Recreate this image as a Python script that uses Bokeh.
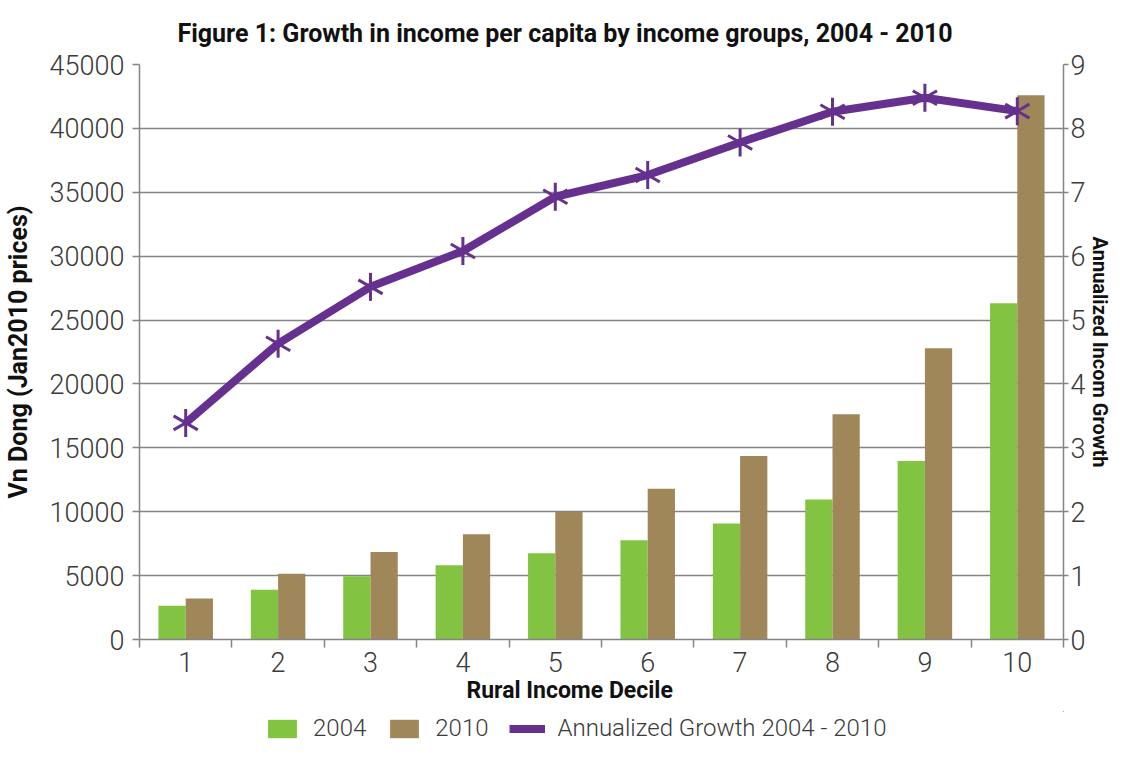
import numpy as np
from bokeh.plotting import figure
from bokeh.layouts import column
from bokeh.models import (Range1d, LinearAxis, FixedTicker, Legend, LegendItem,
                          ColumnDataSource, Title)
from bokeh.transform import dodge
from bokeh.embed import file_html
from bokeh.resources import INLINE

# ---------------- data ----------------
deciles = [1, 2, 3, 4, 5, 6, 7, 8, 9, 10]
income_2004 = [2650, 3900, 4950, 5820, 6750, 7760, 9080, 10950, 13970, 26320]
income_2010 = [3200, 5140, 6850, 8230, 10000, 11800, 14360, 17620, 22800, 42600]
growth = [3.39, 4.63, 5.52, 6.08, 6.93, 7.27, 7.78, 8.26, 8.48, 8.27]
left_ticks = [0, 5000, 10000, 15000, 20000, 25000, 30000, 35000, 40000, 45000]
right_ticks = [0, 1, 2, 3, 4, 5, 6, 7, 8, 9]
x_tick_labels = [str(d) for d in deciles]
series_labels = ["2004", "2010", "Annualized Growth 2004 - 2010"]

GREEN = "#82C341"
BROWN = "#A0875A"
PURPLE = "#66308F"
GRID = "#858585"
TXT = "#3a3a3a"
TICK_FONT = "Roboto Light, Roboto"
BOLD_FONT = "Roboto"

src = ColumnDataSource(dict(decile=deciles, y2004=income_2004, y2010=income_2010, growth=growth))

p = figure(width=1125, height=711, x_range=Range1d(0.5, 10.5), y_range=Range1d(0, 45000),
           output_backend="svg", toolbar_location=None,
           min_border_left=130, min_border_right=62, min_border_top=59, min_border_bottom=72)
p.extra_y_ranges = {"growth": Range1d(0, 9)}
p.outline_line_color = None
p.background_fill_color = "white"

bw = 0.295


def draw_series(fig, yname=None):
    kw = {} if yname is None else {"y_range_name": yname}
    a = fig.vbar(x=dodge("decile", -bw / 2, range=fig.x_range), top="y2004", width=bw, source=src,
                 fill_color=GREEN, line_color=None)
    b = fig.vbar(x=dodge("decile", bw / 2, range=fig.x_range), top="y2010", width=bw, source=src,
                 fill_color=BROWN, line_color=None)
    ln = fig.line(x="decile", y="growth", source=src, line_color=PURPLE, line_width=8,
                  line_join="round", **kw)
    ms = []
    for ang in (np.pi / 2, np.pi / 6, -np.pi / 6):
        ms.append(fig.scatter(x="decile", y="growth", source=src, marker="dash", angle=ang,
                              size=28, line_color=PURPLE, line_width=3, **kw))
    return a, b, ln, ms


draw_series(p, "growth")

# title
p.title.text = "Figure 1: Growth in income per capita by income groups, 2004 - 2010"
p.title.align = "left"
p.title.text_font = BOLD_FONT
p.title.text_font_size = "25px"
p.title.text_font_style = "bold"
p.title.text_color = "#111111"
p.title.offset = 38
p.title.standoff = 33

# grids
p.xgrid.visible = False
p.ygrid.ticker = FixedTicker(ticks=left_ticks)
p.ygrid.grid_line_color = GRID
p.ygrid.grid_line_width = 1.5

# x axis
xa = p.xaxis[0]
xa.ticker = FixedTicker(ticks=deciles, minor_ticks=[d - 0.5 for d in deciles] + [10.5])
xa.major_label_overrides = {d: lab for d, lab in zip(deciles, x_tick_labels)}
xa.major_tick_out = 0
xa.major_tick_in = 0
xa.minor_tick_out = 8
xa.minor_tick_in = 0
xa.minor_tick_line_color = GRID
xa.minor_tick_line_width = 1.5
xa.axis_line_color = GRID
xa.axis_line_width = 1.5
xa.major_label_standoff = 4
xa.major_label_text_font = TICK_FONT
xa.major_label_text_font_size = "27px"
xa.major_label_text_color = TXT

# left axis
ya = p.yaxis[0]
ya.ticker = FixedTicker(ticks=left_ticks)
ya.axis_label = "Vn Dong (Jan2010 prices)"
ya.major_tick_out = 7
ya.major_tick_in = 0
ya.minor_tick_line_color = None
ya.major_tick_line_color = GRID
ya.major_tick_line_width = 1.5
ya.axis_line_color = GRID
ya.axis_line_width = 1.5
ya.major_label_standoff = 8
ya.major_label_text_font = TICK_FONT
ya.major_label_text_font_size = "27px"
ya.major_label_text_color = TXT
ya.axis_label_text_font = BOLD_FONT
ya.axis_label_text_font_style = "bold"
ya.axis_label_text_font_size = "25px"
ya.axis_label_text_color = "#111111"
ya.axis_label_standoff = 14

# right axis
ra = LinearAxis(y_range_name="growth", ticker=FixedTicker(ticks=right_ticks),
                axis_label="Annualized Incom Growth")
ra.major_tick_out = 5
ra.major_tick_in = 0
ra.minor_tick_line_color = None
ra.major_tick_line_color = GRID
ra.major_tick_line_width = 1.5
ra.axis_line_color = GRID
ra.axis_line_width = 1.5
ra.major_label_standoff = 2
ra.major_label_text_font = TICK_FONT
ra.major_label_text_font_size = "27px"
ra.major_label_text_color = TXT
ra.axis_label_text_font = BOLD_FONT
ra.axis_label_text_font_style = "bold"
ra.axis_label_text_font_size = "20px"
ra.axis_label_text_color = "#111111"
ra.axis_label_standoff = 0
p.add_layout(ra, "right")

# x axis title below
xt = Title(text="Rural Income Decile", align="left", text_font=BOLD_FONT,
           text_font_size="23px", text_font_style="bold", text_color="#111111",
           offset=327, standoff=0)
p.add_layout(xt, "below")

# legend strip (second figure; its copies of the series lie outside its ranges)
lg = figure(width=1125, height=31, x_range=Range1d(-10, -9), y_range=Range1d(-10, -9),
            x_axis_type=None, y_axis_type=None, toolbar_location=None, output_backend="svg",
            min_border=0)
lg.outline_line_color = None
la, lb, lln, lms = draw_series(lg)
legend = Legend(items=[LegendItem(label=series_labels[0], renderers=[la]),
                       LegendItem(label=series_labels[1], renderers=[lb]),
                       LegendItem(label=series_labels[2], renderers=[lln] + lms)],
                orientation="horizontal", location=(125, 0),
                glyph_width=36, glyph_height=23, label_standoff=13, spacing=20,
                padding=0, margin=0, border_line_color=None, background_fill_alpha=0,
                label_text_font=TICK_FONT, label_text_font_size="24px", label_text_color=TXT)
lg.add_layout(legend, "center")

open("out.html", "w").write(file_html(column(p, lg), INLINE))
